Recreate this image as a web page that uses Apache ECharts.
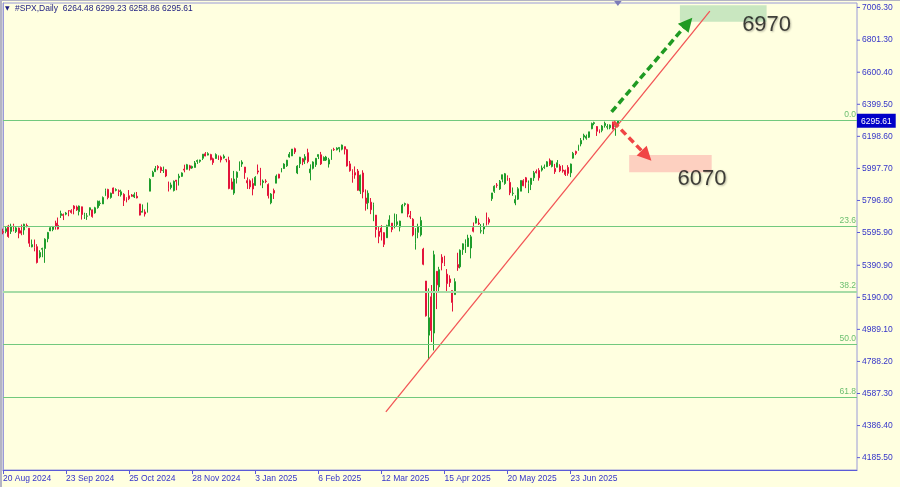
<!DOCTYPE html>
<html><head><meta charset="utf-8">
<script src="https://cdn.jsdelivr.net/npm/echarts@6/dist/echarts.min.js"></script>
<style>html,body{margin:0;padding:0;background:#ffffe0}#c{width:900px;height:487px}</style>
</head><body><div id="c"></div>
<script>
// ---- trading days (CFD incl. some US holidays) ----
const dates = [
'20 Aug 2024','21 Aug 2024','22 Aug 2024','23 Aug 2024','26 Aug 2024','27 Aug 2024','28 Aug 2024','29 Aug 2024','30 Aug 2024',
'2 Sep 2024','3 Sep 2024','4 Sep 2024','5 Sep 2024','6 Sep 2024','9 Sep 2024','10 Sep 2024','11 Sep 2024','12 Sep 2024','13 Sep 2024','16 Sep 2024','17 Sep 2024','18 Sep 2024','19 Sep 2024','20 Sep 2024','23 Sep 2024','24 Sep 2024','25 Sep 2024','26 Sep 2024','27 Sep 2024','30 Sep 2024',
'1 Oct 2024','2 Oct 2024','3 Oct 2024','4 Oct 2024','7 Oct 2024','8 Oct 2024','9 Oct 2024','10 Oct 2024','11 Oct 2024','14 Oct 2024','15 Oct 2024','16 Oct 2024','17 Oct 2024','18 Oct 2024','21 Oct 2024','22 Oct 2024','23 Oct 2024','24 Oct 2024','25 Oct 2024','28 Oct 2024','29 Oct 2024','30 Oct 2024','31 Oct 2024',
'1 Nov 2024','4 Nov 2024','5 Nov 2024','6 Nov 2024','7 Nov 2024','8 Nov 2024','11 Nov 2024','12 Nov 2024','13 Nov 2024','14 Nov 2024','15 Nov 2024','18 Nov 2024','19 Nov 2024','20 Nov 2024','21 Nov 2024','22 Nov 2024','25 Nov 2024','26 Nov 2024','27 Nov 2024','28 Nov 2024','29 Nov 2024',
'2 Dec 2024','3 Dec 2024','4 Dec 2024','5 Dec 2024','6 Dec 2024','9 Dec 2024','10 Dec 2024','11 Dec 2024','12 Dec 2024','13 Dec 2024','16 Dec 2024','17 Dec 2024','18 Dec 2024','19 Dec 2024','20 Dec 2024','23 Dec 2024','24 Dec 2024','26 Dec 2024','27 Dec 2024','30 Dec 2024','31 Dec 2024',
'2 Jan 2025','3 Jan 2025','6 Jan 2025','7 Jan 2025','8 Jan 2025','9 Jan 2025','10 Jan 2025','13 Jan 2025','14 Jan 2025','15 Jan 2025','16 Jan 2025','17 Jan 2025','20 Jan 2025','21 Jan 2025','22 Jan 2025','23 Jan 2025','24 Jan 2025','27 Jan 2025','28 Jan 2025','29 Jan 2025','30 Jan 2025','31 Jan 2025',
'3 Feb 2025','4 Feb 2025','5 Feb 2025','6 Feb 2025','7 Feb 2025','10 Feb 2025','11 Feb 2025','12 Feb 2025','13 Feb 2025','14 Feb 2025','17 Feb 2025','18 Feb 2025','19 Feb 2025','20 Feb 2025','21 Feb 2025','24 Feb 2025','25 Feb 2025','26 Feb 2025','27 Feb 2025','28 Feb 2025',
'3 Mar 2025','4 Mar 2025','5 Mar 2025','6 Mar 2025','7 Mar 2025','10 Mar 2025','11 Mar 2025','12 Mar 2025','13 Mar 2025','14 Mar 2025','17 Mar 2025','18 Mar 2025','19 Mar 2025','20 Mar 2025','21 Mar 2025','24 Mar 2025','25 Mar 2025','26 Mar 2025','27 Mar 2025','28 Mar 2025','31 Mar 2025',
'1 Apr 2025','2 Apr 2025','3 Apr 2025','4 Apr 2025','7 Apr 2025','8 Apr 2025','9 Apr 2025','10 Apr 2025','11 Apr 2025','14 Apr 2025','15 Apr 2025','16 Apr 2025','17 Apr 2025','21 Apr 2025','22 Apr 2025','23 Apr 2025','24 Apr 2025','25 Apr 2025','28 Apr 2025','29 Apr 2025','30 Apr 2025',
'1 May 2025','2 May 2025','5 May 2025','6 May 2025','7 May 2025','8 May 2025','9 May 2025','12 May 2025','13 May 2025','14 May 2025','15 May 2025','16 May 2025','19 May 2025','20 May 2025','21 May 2025','22 May 2025','23 May 2025','26 May 2025','27 May 2025','28 May 2025','29 May 2025','30 May 2025',
'2 Jun 2025','3 Jun 2025','4 Jun 2025','5 Jun 2025','6 Jun 2025','9 Jun 2025','10 Jun 2025','11 Jun 2025','12 Jun 2025','13 Jun 2025','16 Jun 2025','17 Jun 2025','18 Jun 2025','19 Jun 2025','20 Jun 2025','23 Jun 2025','24 Jun 2025','25 Jun 2025','26 Jun 2025','27 Jun 2025','30 Jun 2025',
'1 Jul 2025','2 Jul 2025','3 Jul 2025','4 Jul 2025','7 Jul 2025','8 Jul 2025','9 Jul 2025','10 Jul 2025','11 Jul 2025','14 Jul 2025','15 Jul 2025','16 Jul 2025','17 Jul 2025'
];
const opens = [
5602,5603,5637,5603,5639,5602,5624,5607,5612,
5640,5623,5506,5530,5507,5443,5491,5496,5557,5606,5615,5655,5641,5703,5709,5711,5733,5733,5762,5756,5727,
5757,5698,5698,5737,5738,5719,5752,5778,5775,5829,5866,5816,5875,5860,5857,5832,5835,5813,5826,5831,5819,5823,5775,
5723,5725,5722,5855,5947,5977,6009,6003,5985,5989,5913,5878,5859,5924,5939,5948,5993,5992,6014,6000,6004,
6041,6042,6061,6089,6081,6084,6058,6060,6074,6069,6063,6053,6048,5913,5843,5941,5985,6025,6006,5921,5920,
5903,5892,5982,5994,5910,5918,5897,5782,5859,5905,5961,5975,5997,6014,6069,6076,6121,5969,6027,6058,6051,6096,
5970,5998,6021,6072,6083,6047,6050,6025,6057,6116,6114,6121,6118,6134,6115,6026,5982,5971,5981,5856,
5969,5812,5782,5786,5726,5705,5603,5624,5595,5563,5635,5655,5632,5646,5630,5718,5772,5772,5701,5679,5528,
5597,5581,5492,5292,4953,5193,4966,5353,5255,5441,5411,5335,5305,5232,5207,5395,5381,5489,5529,5508,5499,
5626,5655,5655,5605,5618,5679,5679,5808,5854,5893,5869,5930,5903,5944,5910,5841,5781,5805,5855,5921,5939,5904,
5897,5939,5978,5985,5987,6004,6009,6049,6010,5997,6005,6012,5988,5985,6004,5970,6062,6104,6112,6151,6194,
6187,6193,6246,6279,6260,6233,6236,6266,6256,6253,6288,6262,6264.48
];
const highs = [
5620,5632,5644,5651,5651,5631,5627,5646,5651,
5652,5623,5552,5552,5523,5485,5501,5560,5600,5636,5637,5670,5690,5733,5715,5725,5735,5742,5767,5765,5765,
5758,5720,5718,5753,5739,5757,5796,5796,5822,5871,5870,5846,5878,5873,5866,5864,5842,5817,5862,5837,5847,5850,5775,
5772,5741,5783,5936,5983,6013,6018,6010,6009,5993,5915,5909,5922,5925,5964,5973,6021,6026,6020,6015,6044,
6053,6052,6087,6100,6099,6089,6065,6092,6079,6078,6085,6058,6071,5936,5982,5979,6040,6049,6007,5941,5929,
5935,5949,6022,6001,5928,5930,5904,5843,5871,5960,5964,6000,6030,6051,6100,6119,6128,6018,6070,6062,6087,6121,
6023,6042,6062,6084,6101,6073,6076,6064,6116,6127,6130,6129,6147,6134,6120,6044,5992,6010,5994,5959,
5986,5866,5860,5812,5783,5706,5636,5642,5598,5645,5704,5655,5715,5711,5670,5775,5783,5777,5731,5686,5623,
5651,5695,5500,5292,5246,5267,5482,5353,5381,5460,5450,5367,5328,5232,5309,5469,5490,5528,5553,5582,5581,
5659,5700,5683,5649,5654,5721,5691,5844,5892,5906,5925,5958,5969,5954,5938,5878,5829,5880,5922,5930,5944,5922,
5937,5982,5991,5999,6016,6022,6043,6060,6045,6026,6050,6024,6018,5990,6018,6028,6101,6109,6146,6188,6215,
6210,6227,6285,6290,6263,6242,6269,6291,6275,6273,6290,6278,6299.23
];
const lows = [
5585,5591,5563,5587,5603,5593,5560,5579,5582,
5628,5506,5503,5478,5402,5434,5441,5406,5535,5605,5604,5614,5615,5687,5674,5704,5698,5714,5710,5731,5703,
5677,5681,5675,5702,5689,5714,5745,5763,5775,5824,5804,5808,5840,5854,5824,5821,5762,5785,5799,5820,5812,5810,5703,
5723,5696,5722,5855,5946,5976,5986,5969,5969,5943,5853,5866,5853,5861,5890,5944,5973,5990,5984,5995,6003,
6026,6033,6050,6074,6079,6048,6020,6058,6051,6035,6059,6036,5867,5866,5832,5903,5983,6007,5932,5869,5868,
5829,5888,5961,5891,5874,5905,5809,5773,5806,5905,5935,5973,5995,6007,6065,6075,6088,5962,6000,6018,6025,6030,
5923,5991,6007,6056,6019,6044,6044,6003,6051,6107,6110,6099,6111,6085,6009,5977,5908,5933,5858,5837,
5810,5733,5742,5711,5667,5565,5529,5546,5505,5563,5631,5598,5622,5633,5603,5718,5760,5692,5681,5572,5489,
5560,5571,5391,5069,4800,4910,4857,5116,5220,5359,5386,5220,5255,5101,5207,5356,5371,5456,5468,5506,5434,
5597,5652,5643,5590,5586,5640,5646,5794,5844,5876,5863,5911,5895,5920,5830,5826,5767,5800,5855,5886,5874,5843,
5862,5919,5966,5921,5978,5995,6006,6013,6004,5963,6005,5974,5971,5950,5952,5943,6059,6081,6108,6136,6174,
6177,6188,6243,6268,6201,6218,6224,6253,6242,6243,6242,6202,6258.86
];
const closes = [
5597,5620,5571,5635,5616,5625,5592,5592,5648,
5635,5529,5520,5503,5408,5471,5496,5554,5596,5626,5633,5634,5618,5714,5703,5718,5732,5722,5745,5738,5762,
5709,5709,5700,5751,5696,5751,5792,5780,5815,5859,5815,5842,5841,5865,5853,5851,5797,5809,5808,5823,5833,5813,5705,
5729,5712,5782,5929,5973,5996,6001,5984,5985,5950,5871,5894,5917,5917,5949,5969,5987,6021,5999,6010,6032,
6047,6050,6087,6075,6090,6053,6034,6084,6051,6051,6074,6051,5872,5867,5931,5974,6040,6037,5971,5907,5882,
5869,5942,5975,5909,5918,5915,5827,5837,5843,5950,5937,5997,6025,6049,6086,6119,6101,6012,6068,6039,6071,6041,
5994,6038,6061,6084,6026,6066,6069,6052,6115,6115,6125,6129,6144,6118,6013,5983,5955,5956,5861,5955,
5850,5778,5842,5739,5770,5615,5572,5599,5522,5639,5675,5615,5675,5663,5668,5767,5777,5712,5693,5581,5612,
5633,5671,5397,5074,5062,4982,5457,5268,5363,5406,5397,5276,5283,5158,5288,5376,5485,5525,5529,5561,5569,
5604,5687,5650,5607,5631,5664,5660,5844,5886,5892,5917,5958,5964,5941,5845,5842,5803,5870,5922,5889,5912,5912,
5936,5970,5971,5939,6000,6006,6039,6022,6045,5977,6033,5983,5981,5960,5967,6025,6092,6092,6141,6173,6205,
6198,6227,6279,6284,6230,6226,6263,6280,6260,6269,6244,6264,6295.61
];
// price-axis tick labels
const yTicks = [4185.50,4386.40,4587.30,4788.20,4989.10,5190.00,5390.90,5595.90,5796.80,5997.70,6198.60,6399.50,6600.40,6801.30,7006.30];
// Fibonacci retracement levels
const fibLabels = ['0.0','23.6','38.2','50.0','61.8'];
const fibPrices = [6300.5,5637,5227,4896,4565];
// annotations in [bar index, price]
const trendLine = [[145.7,4472],[269.0,6983]];
const upArrow = [[231.6,6352],[260.6,6909]];
const downArrow = [[232.3,6290],[244.9,6077]];
const upBox = [[257.6,7020],[290.6,6916]];
const downBox = [[238.3,6081],[269.7,5973]];
const targetLabels = [[290.6,6897,'6970'],[266.0,5934,'6070']];

const TOTAL_SLOTS = 326;
const cats = dates.concat(new Array(TOTAL_SLOTS - dates.length).fill(''));
const last = dates.length - 1;
const lastPrice = closes[last];
const candles = opens.map((o,i)=>[o, closes[i], lows[i], highs[i]]);
const UP='#1f9d2c', DN='#e3143b';
const AX='#3535c8';
const FONT='Liberation Sans';
const showLab = (idx, val) => idx % 24 === 0 && val !== '';

const chart = echarts.init(document.getElementById('c'));
chart.setOption({
  animation:false,
  backgroundColor:'#ffffe0',
  grid:{left:3,right:43,top:3,bottom:17,show:true,borderColor:'#9a9ad8',borderWidth:1},
  xAxis:[{
    type:'category', data:cats, boundaryGap:false,
    axisLine:{show:true,lineStyle:{color:'#5a5ad8'}},
    axisTick:{show:true,interval:showLab,length:4,lineStyle:{color:'#5a5ad8'}},
    axisLabel:{interval:showLab,align:'left',margin:4,fontSize:8.5,fontFamily:FONT,color:AX,hideOverlap:false},
    splitLine:{show:false}
  },{
    type:'value', min:0, max:TOTAL_SLOTS-1, show:false
  }],
  yAxis:{
    type:'value', position:'right', min:4108, max:7034,
    axisLine:{show:true,lineStyle:{color:'#9a9ad8'}},
    axisTick:{show:false},
    axisLabel:{
      customValues:yTicks.concat([lastPrice]),
      formatter:v=> v===lastPrice ? '{p|'+v.toFixed(2)+'}' : '{t|}{n|'+v.toFixed(2)+'}',
      margin:0, fontSize:8.5, fontFamily:FONT, color:AX,
      rich:{
        t:{width:3,height:1,backgroundColor:'#5a5ad8',padding:0},
        n:{padding:[0,0,0,2],fontSize:8.5,fontFamily:FONT,color:AX},
        p:{backgroundColor:'#0000c8',color:'#fff',padding:[3,4,2,4],fontSize:8.5,fontFamily:FONT}
      }
    },
    splitLine:{show:false}
  },
  graphic:[
    {type:'rect',left:0,top:0,shape:{width:2,height:487},style:{fill:'#b4b4c4'},z:10},
    {type:'rect',left:0,top:0,shape:{width:900,height:1},style:{fill:'#b4b4c4'},z:10},
    {type:'text',left:5,top:5,style:{text:'▼',font:'6px DejaVu Sans',fill:'#1c1c80'}},
    {type:'text',left:15,top:4,style:{text:'#SPX,Daily  '+[opens[last],highs[last],lows[last],closes[last]].map(v=>v.toFixed(2)).join(' '),font:'8.5px '+FONT,fill:'#1c1c80'}}
  ],
  series:[
    {
      type:'candlestick', z:2, data:candles, barWidth:1.4,
      itemStyle:{color:UP,color0:DN,borderColor:UP,borderColor0:DN,borderWidth:1},
      markLine:{
        silent:true, symbol:['none','none'],
        data: fibPrices.map((p,i)=>({yAxis:p,lineStyle:{color:i===2?'#a6dca6':'#72c97e',width:i===2?2:1,type:'solid'},
          label:{show:true,position:'insideEndTop',formatter:fibLabels[i],color:'#6cbf70',fontSize:8.5,fontFamily:FONT,distance:[1,1]}}))
      },
      markPoint:{
        silent:true,
        data:[{coord:[dates[last],7034],symbol:'triangle',symbolRotate:180,symbolSize:[9,6],itemStyle:{color:'#7c7cb8'},label:{show:false}}]
      }
    },
    {
      type:'line', xAxisIndex:1, z:1, data:trendLine, showSymbol:false, lineStyle:{opacity:0},
      markArea:{silent:true,data:[
        [{coord:upBox[0],itemStyle:{color:'#c9e7c0'}},{coord:upBox[1]}],
        [{coord:downBox[0],itemStyle:{color:'#fdd0c0'}},{coord:downBox[1]}]
      ]}
    },
    {
      type:'line', xAxisIndex:1, z:4, data:trendLine, showSymbol:false, lineStyle:{color:'#f25555',width:1.3},
      markLine:{silent:true, symbol:['none','triangle'], symbolSize:14, label:{show:false},
        data:[
          [{coord:upArrow[0],lineStyle:{color:'#1f9a22',width:3.5,type:[7,4]},itemStyle:{color:'#1f9a22'}},{coord:upArrow[1]}],
          [{coord:downArrow[0],lineStyle:{color:'#f04545',width:3.5,type:[7,4]},itemStyle:{color:'#f04545'}},{coord:downArrow[1]}]
        ]}
    },
    {
      type:'scatter', xAxisIndex:1, z:5, symbolSize:0, data:targetLabels,
      label:{show:true,position:'inside',formatter:p=>p.value[2],fontSize:22,fontFamily:FONT,color:'#141414',
        textShadowColor:'rgba(0,0,0,0.35)',textShadowBlur:2,textShadowOffsetX:1,textShadowOffsetY:1}
    }
  ]
});
</script></body></html>
